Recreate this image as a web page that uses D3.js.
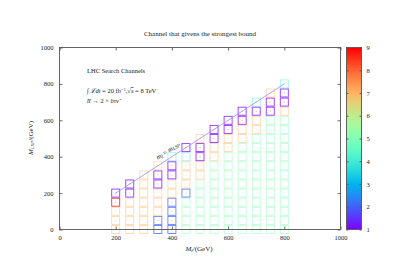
<!DOCTYPE html>
<html>
<head>
<meta charset="utf-8">
<script src="https://cdn.jsdelivr.net/npm/d3@7"></script>
<style>
html,body{margin:0;padding:0;background:#fff;}
svg{display:block;}
text{font-family:"Liberation Serif","DejaVu Serif",serif;fill:#222;}
</style>
</head>
<body>
<svg id="chart" width="399" height="279"></svg>
<script>
// ---- data ----
const stopMasses = [200,250,300,350,400,450,500,550,600,650,700,750,800];
const lspStep = 50;
// channel index of each point, per stop mass column, LSP mass from 0 upward in steps of 50
const channels = [
  [7,7,7,9,1],
  [7,7,7,7,1,1],
  [7,7,7,7,7,7,7],
  [2,2,7,7,7,1,1,7],
  [2,2,2,2,7,7,1,1,4],
  [5,5,5,5,2,7,7,7,4,1],
  [5,5,5,5,5,5,7,7,1,1,7],
  [5,5,5,5,5,5,5,5,7,7,1,1],
  [5,5,5,5,5,5,5,5,5,7,7,1,1],
  [5,5,5,5,5,5,5,5,5,5,7,7,1,1],
  [5,5,5,5,5,5,5,5,5,5,5,7,7,1,4],
  [5,5,5,5,5,5,5,5,5,5,5,5,5,1,1,7],
  [5,5,5,5,5,5,5,5,5,5,5,5,5,7,1,1,4]
];
const axisTicks = [0,200,400,600,800,1000];
const cbTicks = [1,2,3,4,5,6,7,8,9];
const diagonal = [[200,200],[800,800]];

// ---- layout ----
const svg = d3.select("#chart");
const x = d3.scaleLinear().domain([0,1000]).range([59.5,340.5]);
const y = d3.scaleLinear().domain([0,1000]).range([229.5,47.5]);
const cb = d3.scaleLinear().domain([1,9]).range([229.5,47.5]);

function rainbow(t){
  const r = Math.min(1,Math.abs(2*t-0.5));
  const g = Math.sin(Math.PI*t);
  const b = Math.cos(Math.PI*t/2);
  return d3.rgb(r*255,g*255,b*255).toString();
}
const color = v => rainbow((v-1)/8);
const strokeOp = v => (v <= 2 || v >= 9) ? 0.8 : 0.5;

// points
const pts = [];
stopMasses.forEach((m,i)=>{
  channels[i].forEach((c,j)=>pts.push({mx:m,my:j*lspStep,c}));
});
const box = 8;
const g = svg.append("g");
g.selectAll("rect.pt").data(pts).enter().append("rect")
  .attr("x",d=>x(d.mx)-box/2).attr("y",d=>y(d.my)-box/2)
  .attr("width",box).attr("height",box)
  .attr("fill","none").attr("stroke",d=>color(d.c))
  .attr("stroke-width",0.9).attr("stroke-opacity",d=>strokeOp(d.c));
g.selectAll("rect.dot").data(pts).enter().append("rect")
  .attr("x",d=>x(d.mx)-0.5).attr("y",d=>y(d.my)-0.5)
  .attr("width",1).attr("height",1)
  .attr("fill",d=>color(d.c)).attr("opacity",0.4);

// diagonal
svg.append("path")
  .attr("d",d3.line().x(d=>x(d[0])).y(d=>y(d[1]))(diagonal))
  .attr("stroke","#8f8ff5").attr("stroke-width",0.8).attr("fill","none");

// diagonal label
const ang = -Math.atan2(y(0)-y(100), x(100)-x(0))*180/Math.PI;
const lbl = svg.append("text").attr("transform",`translate(${x(390)},${y(390)-6}) rotate(${ang})`)
  .attr("text-anchor","middle").style("font-size","6.8px").style("font-style","italic");
lbl.append("tspan").text("m");
lbl.append("tspan").attr("baseline-shift","-25%").style("font-size","5px").text("t̃");
lbl.append("tspan").style("font-style","normal").text(" = ");
lbl.append("tspan").text("m");
lbl.append("tspan").attr("baseline-shift","-25%").style("font-size","5px").text("LSP");

// frame
svg.append("rect").attr("x",x(0)).attr("y",y(1000)).attr("width",x(1000)-x(0)).attr("height",y(0)-y(1000))
  .attr("fill","none").attr("stroke","#555").attr("stroke-width",0.9);

function styleAxis(sel){
  sel.select(".domain").remove();
  sel.selectAll("line").attr("stroke","#555").attr("stroke-width",0.9);
  sel.selectAll("text").style("font-size","6.5px").attr("fill","#222")
    .style("font-family","'Liberation Serif','DejaVu Serif',serif");
}
svg.append("g").attr("transform",`translate(0,${y(0)})`)
  .call(d3.axisBottom(x).tickValues(axisTicks).tickSizeInner(-3).tickSizeOuter(0).tickPadding(6).tickFormat(d3.format("d")))
  .call(styleAxis);
svg.append("g").attr("transform",`translate(0,${y(1000)})`)
  .call(d3.axisTop(x).tickValues(axisTicks).tickSizeInner(-3).tickSizeOuter(0).tickFormat(""))
  .call(styleAxis);
svg.append("g").attr("transform",`translate(${x(0)},0)`)
  .call(d3.axisLeft(y).tickValues(axisTicks).tickSizeInner(-3).tickSizeOuter(0).tickPadding(6).tickFormat(d3.format("d")))
  .call(styleAxis);
svg.append("g").attr("transform",`translate(${x(1000)},0)`)
  .call(d3.axisRight(y).tickValues(axisTicks).tickSizeInner(-3).tickSizeOuter(0).tickFormat(""))
  .call(styleAxis);

// colorbar
const defs = svg.append("defs");
const grad = defs.append("linearGradient").attr("id","cbg").attr("x1",0).attr("y1",1).attr("x2",0).attr("y2",0);
d3.range(0,1.0001,0.05).forEach(t=>grad.append("stop").attr("offset",t).attr("stop-color",rainbow(t)));
const cbx0 = 346.5, cbx1 = 361.5;
svg.append("rect").attr("x",cbx0).attr("y",cb(9)).attr("width",cbx1-cbx0).attr("height",cb(1)-cb(9))
  .attr("fill","url(#cbg)").attr("stroke","#555").attr("stroke-width",0.9);
svg.append("g").attr("transform",`translate(${cbx1},0)`)
  .call(d3.axisRight(cb).tickValues(cbTicks).tickSizeInner(-2).tickSizeOuter(0).tickPadding(5).tickFormat(d3.format("d")))
  .call(styleAxis);
svg.append("g").attr("transform",`translate(${cbx0},0)`)
  .call(d3.axisLeft(cb).tickValues(cbTicks).tickSizeInner(-2).tickSizeOuter(0).tickFormat(""))
  .call(styleAxis);

// title
svg.append("text").attr("x",200).attr("y",36).attr("text-anchor","middle").style("font-size","7px")
  .text("Channel that givens the strongest bound");

// axis labels
const xl = svg.append("text").attr("x",199).attr("y",251).attr("text-anchor","middle").style("font-size","7px");
xl.append("tspan").style("font-style","italic").text("M");
xl.append("tspan").attr("baseline-shift","-25%").style("font-size","5px").style("font-style","italic").text("t̃");
xl.append("tspan").text("/(GeV)");

const yl = svg.append("text").attr("transform","translate(33,138) rotate(-90)").attr("text-anchor","middle").style("font-size","7px");
yl.append("tspan").style("font-style","italic").text("M");
yl.append("tspan").attr("baseline-shift","-25%").style("font-size","5px").style("font-style","italic").text("LSP");
yl.append("tspan").attr("baseline-shift","0%").text("/(GeV)");

// info block
svg.append("text").attr("x",87).attr("y",73).style("font-size","6.5px").text("LHC Search Channels");
const l2 = svg.append("text").attr("x",87).attr("y",93).style("font-size","6.5px");
l2.append("tspan").text("∫ ");
l2.append("tspan").style("font-style","italic").text("ℒdt");
l2.append("tspan").text(" = 20 fb");
l2.append("tspan").attr("baseline-shift","40%").style("font-size","4.5px").text("−1");
l2.append("tspan").attr("baseline-shift","0%").text(",√");
l2.append("tspan").style("font-style","italic").style("text-decoration","overline").text("s");
l2.append("tspan").text(" = 8 TeV");
const l3 = svg.append("text").attr("x",87).attr("y",103).style("font-size","6.5px");
l3.append("tspan").style("font-style","italic").text("t̃t̃");
l3.append("tspan").text(" → 2 × ");
l3.append("tspan").style("font-style","italic").text("bτν̃");
</script>
</body>
</html>
